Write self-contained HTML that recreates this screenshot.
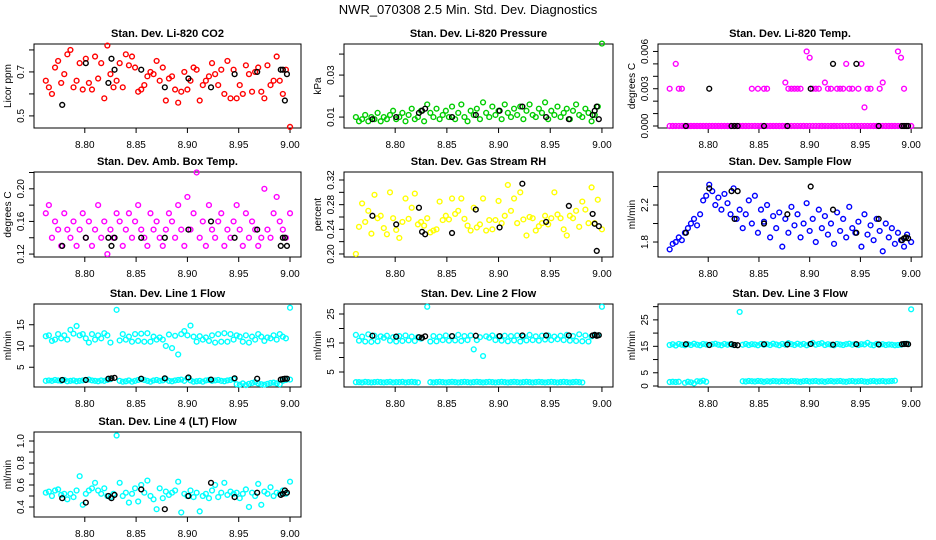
<!DOCTYPE html>
<html><head><meta charset="utf-8">
<style>
html,body{margin:0;padding:0;background:#fff;}
svg{display:block;font-family:"Liberation Sans",sans-serif;}
</style></head>
<body>
<svg id="chart" width="936" height="540" viewBox="0 0 936 540">
<text x="468" y="14" text-anchor="middle" font-size="13">NWR_070308  2.5 Min. Std. Dev. Diagnostics</text>
</svg>
<script>
const T=[8.762,8.765,8.768,8.771,8.774,8.777,8.780,8.783,8.786,8.789,8.792,8.795,8.798,8.801,8.804,8.807,8.810,8.813,8.816,8.819,8.822,8.825,8.828,8.831,8.834,8.837,8.840,8.843,8.846,8.849,8.852,8.855,8.858,8.861,8.864,8.867,8.870,8.873,8.876,8.879,8.882,8.885,8.888,8.891,8.894,8.897,8.900,8.903,8.906,8.909,8.912,8.915,8.918,8.921,8.924,8.927,8.930,8.933,8.936,8.939,8.942,8.945,8.948,8.951,8.954,8.957,8.960,8.963,8.966,8.969,8.972,8.975,8.978,8.981,8.984,8.987,8.990,8.993,8.996,9.000];
const BX=[8.778,8.801,8.823,8.826,8.829,8.855,8.878,8.901,8.923,8.946,8.968,8.991,8.993,8.995,8.997];
const co2=[0.66,0.63,0.60,0.72,0.75,0.65,0.69,0.78,0.80,0.63,0.66,0.74,0.62,0.76,0.65,0.62,0.77,0.67,0.74,0.58,0.82,0.69,0.63,0.66,0.74,0.63,0.78,0.73,0.77,0.72,0.61,0.62,0.64,0.68,0.70,0.69,0.75,0.66,0.72,0.57,0.67,0.68,0.62,0.56,0.61,0.70,0.62,0.66,0.72,0.71,0.57,0.64,0.66,0.68,0.74,0.69,0.64,0.71,0.60,0.75,0.58,0.71,0.58,0.64,0.60,0.73,0.69,0.61,0.70,0.72,0.61,0.58,0.73,0.64,0.66,0.77,0.66,0.60,0.71,0.45];
const co2B=[0.55,0.74,0.65,0.76,0.71,0.71,0.63,0.67,0.63,0.69,0.70,0.71,0.71,0.57,0.69];
const pres=[0.010,0.008,0.009,0.011,0.008,0.010,0.009,0.012,0.008,0.010,0.009,0.011,0.013,0.009,0.010,0.012,0.008,0.011,0.014,0.009,0.010,0.013,0.008,0.016,0.012,0.010,0.014,0.009,0.011,0.013,0.010,0.015,0.009,0.012,0.016,0.010,0.008,0.013,0.011,0.014,0.009,0.017,0.012,0.010,0.015,0.011,0.013,0.009,0.016,0.012,0.010,0.014,0.011,0.015,0.009,0.013,0.016,0.011,0.010,0.014,0.012,0.017,0.009,0.013,0.011,0.015,0.010,0.012,0.014,0.009,0.013,0.016,0.011,0.010,0.014,0.012,0.008,0.011,0.015,0.045];
const presB=[0.009,0.010,0.012,0.013,0.014,0.010,0.011,0.013,0.015,0.010,0.009,0.011,0.013,0.015,0.009];
const temp=[0.003,0,0.005,0.003,0.003,0,0,0,0,0,0,0,0,0,0,0,0,0,0,0,0,0,0,0,0,0,0,0.003,0,0.003,0,0.003,0.003,0,0,0,0,0,0.0035,0.003,0.003,0.003,0.003,0.003,0,0.006,0.0055,0.003,0.003,0.003,0,0.0035,0.003,0.003,0,0.003,0.003,0.003,0.005,0.003,0.003,0,0.003,0.005,0.0015,0.003,0.003,0,0,0.003,0.0035,0,0,0,0,0.006,0.0055,0.003,0,0];
const tempLow=[0,0,0,0,0,0,0,0,0,0,0,0,0,0,0,0,0,0,0,0,0,0,0,0,0,0,0,0,0,0,0,0,0,0,0,0,0,0,0,0,0,0,0,0,0,0,0,0,0,0,0,0,0,0,0,0,0,0,0,0,0,0,0,0,0,0,0,0,0,0,0,0,0,0,0,0,0,0,0,0];
const tempB=[0,0.003,0,0,0,0,0,0.003,0.005,0.005,0,0,0,0,0];
const amb=[0.17,0.18,0.14,0.16,0.15,0.13,0.17,0.15,0.14,0.16,0.13,0.15,0.17,0.14,0.16,0.13,0.15,0.18,0.14,0.16,0.12,0.15,0.14,0.17,0.16,0.13,0.15,0.17,0.14,0.16,0.18,0.15,0.14,0.13,0.17,0.15,0.16,0.14,0.13,0.15,0.17,0.16,0.14,0.18,0.15,0.13,0.19,0.15,0.17,0.22,0.14,0.16,0.13,0.18,0.15,0.14,0.16,0.17,0.13,0.15,0.14,0.16,0.18,0.15,0.13,0.17,0.14,0.16,0.15,0.13,0.14,0.20,0.15,0.14,0.17,0.19,0.16,0.15,0.14,0.17];
const ambB=[0.13,0.14,0.14,0.13,0.14,0.14,0.14,0.15,0.16,0.14,0.15,0.13,0.14,0.14,0.13];
const rh=[0.200,0.244,0.282,0.252,0.270,0.233,0.296,0.258,0.262,0.242,0.232,0.300,0.258,0.239,0.226,0.252,0.290,0.257,0.275,0.298,0.248,0.252,0.246,0.258,0.235,0.238,0.240,0.285,0.255,0.262,0.256,0.290,0.265,0.270,0.290,0.257,0.246,0.238,0.275,0.243,0.248,0.290,0.238,0.255,0.240,0.255,0.286,0.250,0.262,0.312,0.270,0.290,0.250,0.300,0.256,0.230,0.260,0.258,0.238,0.245,0.250,0.262,0.248,0.258,0.300,0.264,0.258,0.240,0.230,0.262,0.258,0.270,0.244,0.285,0.272,0.250,0.308,0.250,0.288,0.240];
const rhB=[0.262,0.248,0.275,0.236,0.232,0.234,0.272,0.243,0.314,0.252,0.278,0.265,0.249,0.205,0.245];
const flow=[1.72,1.78,1.80,1.85,1.82,1.90,1.95,2.00,2.05,1.98,2.10,2.25,2.30,2.42,2.35,2.20,2.28,2.15,2.32,2.22,2.10,2.38,2.05,2.15,1.95,2.10,2.25,2.00,2.30,1.90,2.15,2.02,2.20,1.85,2.08,1.95,2.12,1.75,2.05,1.90,2.18,1.98,2.10,1.85,2.00,2.22,1.92,2.05,1.80,2.15,1.95,2.08,1.88,2.00,1.78,2.12,1.92,2.05,1.85,2.18,1.95,1.90,2.02,1.75,2.10,1.88,1.98,1.82,2.05,1.92,1.70,2.00,1.85,1.95,1.78,1.90,1.82,1.75,1.88,1.80];
const flowB=[1.90,2.38,2.35,2.05,2.35,2.00,2.10,2.40,2.15,1.90,2.05,1.82,1.84,1.85,1.84];
const l1Hi=[12.3,12.5,11.2,11.5,12.8,11.8,12.5,11.5,13.8,12.9,14.7,12.5,12.8,11.8,10.8,12.8,11.5,12.5,11.8,13.0,12.5,10.8,null,18.5,11.3,12.8,11.5,12.2,11.0,12.8,11.2,12.9,11.0,13.0,11.0,12.2,11.5,12.0,11.5,10.0,12.7,9.5,12.4,8.0,12.8,13.5,12.5,14.8,12.2,11.0,12.3,11.5,12.0,11.2,12.5,10.8,12.8,11.0,13.0,11.0,12.8,11.5,12.5,12.2,11.0,12.5,10.8,12.2,11.5,12.8,12.2,11.2,12.0,11.8,12.5,11.5,12.8,12.2,11.8,19.0];
const l1Lo=[1.8,1.9,1.8,2.0,1.9,1.8,2.0,1.7,1.8,1.9,1.7,1.8,1.9,2.0,2.1,1.9,1.8,1.7,1.9,1.8,2.0,2.2,null,null,1.8,1.6,1.7,1.9,1.6,1.8,2.0,2.2,2.0,1.8,1.6,1.9,2.0,1.8,1.9,2.2,1.8,1.7,1.9,2.0,2.1,1.8,2.4,1.9,1.6,1.7,1.8,1.6,1.9,2.0,1.8,1.9,2.0,1.8,1.7,1.9,2.0,2.2,1.0,0.9,1.2,0.8,1.1,1.3,1.5,1.2,1.0,0.9,1.1,1.3,1.4,1.2,1.0,1.8,2.0,2.1];
const l1B=[2.0,2.0,2.3,2.4,2.5,2.3,2.4,2.6,2.1,2.4,2.3,2.1,2.2,2.3,2.3];
const l2Hi=[17.8,15.8,17.2,15.5,18.0,15.4,17.5,15.6,17.3,16.8,17.5,15.8,17.0,15.5,17.4,15.7,17.6,15.9,17.2,15.7,17.0,16.5,null,27.5,15.5,17.4,15.6,17.2,16.0,17.6,15.8,17.3,15.9,17.8,15.7,17.4,16.0,17.6,12.8,16.0,17.0,10.5,17.3,16.8,17.6,16.0,17.2,15.8,17.5,15.6,17.4,15.9,17.6,15.5,17.2,15.9,17.8,16.0,17.3,15.8,17.5,16.2,17.6,16.0,17.2,16.3,17.5,16.0,17.8,15.8,17.4,15.7,18.0,15.6,17.6,15.5,17.3,17.8,17.6,27.5];
const l2Lo=[1.5,1.5,1.4,1.6,1.5,1.4,1.5,1.6,1.5,1.4,1.5,1.6,1.4,1.5,1.5,1.6,1.4,1.5,1.6,1.5,1.4,null,null,null,1.5,1.4,1.5,1.6,1.5,1.4,1.5,1.6,1.5,1.4,1.5,1.6,1.5,1.4,1.5,1.6,1.5,1.4,1.5,1.6,1.5,1.4,1.5,1.6,1.5,1.4,1.5,1.6,1.5,1.4,1.5,1.6,1.5,1.4,1.5,1.6,1.5,1.4,1.5,1.6,1.5,1.4,1.5,1.6,1.5,1.4,1.5,1.6,1.5,1.4,null,null,null,null,null,null];
const l2B=[17.5,17.2,17.0,16.8,17.3,17.4,17.5,17.4,17.6,17.6,17.6,17.6,17.8,17.5,17.7];
const l3Hi=[15.5,15.8,15.3,15.9,15.6,15.4,15.8,15.5,16.0,15.6,15.4,15.9,15.7,15.5,15.8,16.0,15.6,15.4,15.9,15.6,15.8,15.5,null,28.0,15.6,15.9,15.5,15.8,15.7,15.4,15.9,15.6,15.8,15.5,16.0,15.7,15.4,15.9,15.6,16.2,15.8,15.5,16.0,15.6,15.9,15.4,15.8,16.3,15.6,15.9,16.2,15.5,15.8,15.6,15.4,15.9,15.7,15.5,15.8,16.0,15.6,15.9,15.5,15.8,15.7,16.3,15.6,15.4,15.9,15.6,15.8,15.5,15.7,15.6,15.4,15.5,15.6,15.8,16.0,29.0];
const l3Lo=[1.5,1.6,1.5,1.6,null,1.2,1.6,1.4,1.0,1.8,1.7,2.0,1.6,null,null,null,null,null,null,null,null,null,null,null,1.8,1.7,1.9,1.8,1.7,1.9,1.8,1.6,1.8,1.7,1.9,1.8,1.7,1.9,1.8,1.7,1.9,1.8,1.7,1.6,1.8,1.9,1.7,1.8,1.9,1.7,1.8,1.6,1.8,1.9,1.7,1.8,1.9,1.7,1.6,1.8,1.9,1.7,1.8,1.9,1.7,1.6,1.8,1.9,1.7,1.8,1.9,1.7,1.8,1.9,2.0,null,null,null,null,null];
const l3B=[15.8,15.5,15.8,15.5,15.4,15.8,15.7,15.9,15.6,15.8,15.7,15.8,15.9,15.9,15.8];
const l4=[0.53,0.54,0.50,0.55,0.56,0.51,0.52,0.47,0.52,0.49,0.55,0.68,0.42,0.52,0.55,0.57,0.62,0.55,0.52,0.57,0.50,0.49,0.52,1.05,0.62,0.50,0.53,0.44,0.52,0.57,0.45,0.60,0.53,0.64,0.50,0.47,0.38,0.57,0.48,0.54,0.51,0.53,0.55,0.63,0.35,0.52,0.50,0.55,0.49,0.53,0.36,0.50,0.52,0.48,0.55,0.60,0.49,0.53,0.62,0.51,0.54,0.52,0.53,0.48,0.52,0.56,0.40,0.53,0.50,0.61,0.42,0.54,0.52,0.58,0.50,0.53,0.52,0.55,0.52,0.63];
const l4B=[0.48,0.44,0.50,0.48,0.51,0.56,0.38,0.50,0.62,0.49,0.53,0.51,0.52,0.55,0.53];

const NS='http://www.w3.org/2000/svg';
const svg=document.getElementById('chart');
const XMIN=8.7505, XMAX=9.0107, XT=[8.80,8.85,8.90,8.95,9.00];
function el(tag,attrs,parent){const e=document.createElementNS(NS,tag);for(const k in attrs)e.setAttribute(k,attrs[k]);(parent||svg).appendChild(e);return e;}
function panel(p){
  const g=el('g',{});
  
  
  const sx=v=>p.x0+(v-XMIN)/(XMAX-XMIN)*(p.x1-p.x0);
  const sy=v=>p.y1-(v-p.ymin)/(p.ymax-p.ymin)*(p.y1-p.y0);
  const t=el('text',{x:(p.x0+p.x1)/2,y:p.y0-7,'text-anchor':'middle','font-size':11,'font-weight':'bold'},g);
  t.textContent=p.title;
  
  
  const box=el('rect',{x:p.x0,y:p.y0,width:p.x1-p.x0,height:p.y1-p.y0,fill:'none',stroke:'#000','stroke-width':1},g);
  
  
  XT.forEach(v=>{
    const x=sx(v);
    el('line',{x1:x,x2:x,y1:p.y1,y2:p.y1+5,stroke:'#000'},g);
    const lt=el('text',{x:x,y:p.y1+20,'text-anchor':'middle','font-size':10},g);
    lt.textContent=v.toFixed(2);
    
    
  });
  p.yt.forEach(v=>{
    const y=sy(v);
    el('line',{x1:p.x0-5,x2:p.x0,y1:y,y2:y,stroke:'#000'},g);
  });
  p.yl.forEach(s=>{
    const y=sy(parseFloat(s));
    const lt=el('text',{x:0,y:0,'text-anchor':'middle','font-size':10,transform:`translate(${p.x0-10},${y}) rotate(-90)`},g);
    lt.textContent=s;
    
    
  });
  const yt=el('text',{x:0,y:0,'text-anchor':'middle','font-size':10,transform:`translate(${p.x0-23},${(p.y0+p.y1)/2}) rotate(-90)`},g);
  yt.textContent=p.ylab;
  
  
  p.series.forEach(arr=>{
    arr.forEach((v,i)=>{
      if(v===null||i>=T.length)return;
      const c=el('circle',{cx:sx(T[i]),cy:sy(v),r:2.4,fill:'none',stroke:p.col,'stroke-width':1.4},g);
      
      
    });
  });
  p.black.forEach((v,i)=>{
    const c=el('circle',{cx:sx(BX[i]),cy:sy(v),r:2.4,fill:'none',stroke:'#000','stroke-width':1.4},g);
    
    
  });
}
const C1=[34,301],C2=[344,613],C3=[658,922];
const R1=[44,128],R2=[172,257],R3=[304,387],R4=[432,517];
const panels=[
 {name:'co2',title:'Stan. Dev. Li-820 CO2',x0:C1[0],x1:C1[1],y0:R1[0],y1:R1[1],ymin:0.445,ymax:0.827,yt:[0.5,0.6,0.7,0.8],yl:['0.5','0.7'],ylab:'Licor ppm',col:'#ff0000',series:[co2],black:co2B},
 {name:'pressure',title:'Stan. Dev. Li-820 Pressure',x0:C2[0],x1:C2[1],y0:R1[0],y1:R1[1],ymin:0.0048,ymax:0.0448,yt:[0.01,0.02,0.03,0.04],yl:['0.01','0.03'],ylab:'kPa',col:'#00cd00',series:[pres],black:presB},
 {name:'licor-temp',title:'Stan. Dev. Li-820 Temp.',x0:C3[0],x1:C3[1],y0:R1[0],y1:R1[1],ymin:-0.00016,ymax:0.0066,yt:[0,0.001,0.002,0.003,0.004,0.005,0.006],yl:['0.000','0.003','0.006'],ylab:'degrees C',col:'#ff00ff',series:[tempLow,temp],black:tempB},
 {name:'amb-box-temp',title:'Stan. Dev. Amb. Box Temp.',x0:C1[0],x1:C1[1],y0:R2[0],y1:R2[1],ymin:0.1164,ymax:0.2206,yt:[0.12,0.14,0.16,0.18,0.20,0.22],yl:['0.12','0.16','0.20'],ylab:'degrees C',col:'#ff00ff',series:[amb],black:ambB},
 {name:'gas-rh',title:'Stan. Dev. Gas Stream RH',x0:C2[0],x1:C2[1],y0:R2[0],y1:R2[1],ymin:0.1951,ymax:0.333,yt:[0.20,0.22,0.24,0.26,0.28,0.30,0.32],yl:['0.20','0.24','0.28','0.32'],ylab:'percent',col:'#ffff00',series:[rh],black:rhB},
 {name:'sample-flow',title:'Stan. Dev. Sample Flow',x0:C3[0],x1:C3[1],y0:R2[0],y1:R2[1],ymin:1.638,ymax:2.557,yt:[1.8,2.0,2.2,2.4],yl:['1.8','2.2'],ylab:'ml/min',col:'#0000ff',series:[flow],black:flowB},
 {name:'line1-flow',title:'Stan. Dev. Line 1 Flow',x0:C1[0],x1:C1[1],y0:R3[0],y1:R3[1],ymin:0.35,ymax:19.88,yt:[5,10,15],yl:['5','10','15'],ylab:'ml/min',col:'#00ffff',series:[l1Hi,l1Lo],black:l1B},
 {name:'line2-flow',title:'Stan. Dev. Line 2 Flow',x0:C2[0],x1:C2[1],y0:R3[0],y1:R3[1],ymin:-0.17,ymax:28.45,yt:[5,10,15,20,25],yl:['5','15','25'],ylab:'ml/min',col:'#00ffff',series:[l2Hi,l2Lo],black:l2B},
 {name:'line3-flow',title:'Stan. Dev. Line 3 Flow',x0:C3[0],x1:C3[1],y0:R3[0],y1:R3[1],ymin:-0.38,ymax:31.0,yt:[0,5,10,15,20,25,30],yl:['0','5','15','25'],ylab:'ml/min',col:'#00ffff',series:[l3Hi,l3Lo],black:l3B},
 {name:'line4-flow',title:'Stan. Dev. Line 4 (LT) Flow',x0:C1[0],x1:C1[1],y0:R4[0],y1:R4[1],ymin:0.309,ymax:1.082,yt:[0.4,0.5,0.6,0.7,0.8,0.9,1.0],yl:['0.4','0.6','0.8','1.0'],ylab:'ml/min',col:'#00ffff',series:[l4],black:l4B}
];
panels.forEach(panel);
</script>
</body></html>
